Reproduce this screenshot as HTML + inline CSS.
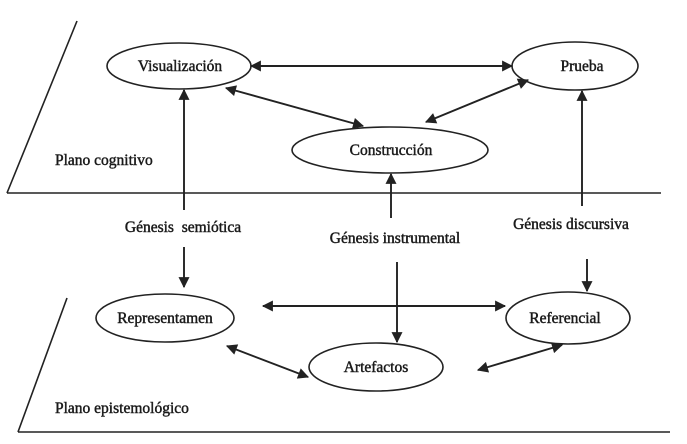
<!DOCTYPE html>
<html><head><meta charset="utf-8"><style>
html,body{margin:0;padding:0;background:#fff;width:687px;height:444px;overflow:hidden}
svg text{font-family:"Liberation Serif",serif;font-size:15.5px;fill:#1a1a1a;stroke:#1a1a1a;stroke-width:0.45}
</style></head><body>
<svg width="687" height="444" viewBox="0 0 687 444" xmlns="http://www.w3.org/2000/svg">
<defs>
<marker id="a" viewBox="0 0 10 10" refX="9" refY="5" markerWidth="12" markerHeight="11" markerUnits="userSpaceOnUse" orient="auto-start-reverse">
<path d="M0,0 L10,5 L0,10 z" fill="#222"/></marker>
</defs>
<g stroke="#222" stroke-width="1.6" fill="none">
<line x1="77" y1="21" x2="7" y2="193"/>
<line x1="7" y1="193" x2="661" y2="193"/>
<line x1="67" y1="298" x2="18" y2="432"/>
<line x1="18" y1="432" x2="670" y2="432"/>
<ellipse cx="179" cy="66" rx="72" ry="23"/>
<ellipse cx="575" cy="66" rx="63" ry="24"/>
<ellipse cx="390" cy="150" rx="98" ry="23"/>
<ellipse cx="165" cy="318" rx="69" ry="24"/>
<ellipse cx="568" cy="318" rx="62" ry="26"/>
<ellipse cx="376" cy="367" rx="67" ry="24"/>
</g>
<g stroke="#222" stroke-width="1.9" fill="none">
<line x1="251" y1="66" x2="512" y2="66" marker-start="url(#a)" marker-end="url(#a)"/>
<line x1="226" y1="88" x2="363" y2="126" marker-start="url(#a)" marker-end="url(#a)"/>
<line x1="528" y1="80" x2="426" y2="122" marker-start="url(#a)" marker-end="url(#a)"/>
<line x1="184" y1="210" x2="184" y2="90" marker-end="url(#a)"/>
<line x1="184" y1="247" x2="184" y2="287" marker-end="url(#a)"/>
<line x1="391" y1="218" x2="391" y2="174" marker-end="url(#a)"/>
<line x1="397" y1="262" x2="397" y2="342" marker-end="url(#a)"/>
<line x1="582" y1="206" x2="582" y2="91" marker-end="url(#a)"/>
<line x1="587" y1="259" x2="587" y2="291" marker-end="url(#a)"/>
<line x1="263" y1="306" x2="505" y2="306" marker-start="url(#a)" marker-end="url(#a)"/>
<line x1="227" y1="346" x2="308" y2="377" marker-start="url(#a)" marker-end="url(#a)"/>
<line x1="478" y1="370" x2="562" y2="345" marker-start="url(#a)" marker-end="url(#a)"/>
</g>
<g text-anchor="middle">
<text x="180" y="71">Visualización</text>
<text x="582" y="71">Prueba</text>
<text x="391" y="155">Construcción</text>
<text x="165" y="323">Representamen</text>
<text x="565" y="323">Referencial</text>
<text x="376" y="372">Artefactos</text>
<text x="183" y="232" xml:space="preserve">Génesis  semiótica</text>
<text x="395" y="243">Génesis instrumental</text>
<text x="571" y="229">Génesis discursiva</text>
</g>
<text x="55" y="165">Plano cognitivo</text>
<text x="55" y="413">Plano epistemológico</text>
</svg>
</body></html>
